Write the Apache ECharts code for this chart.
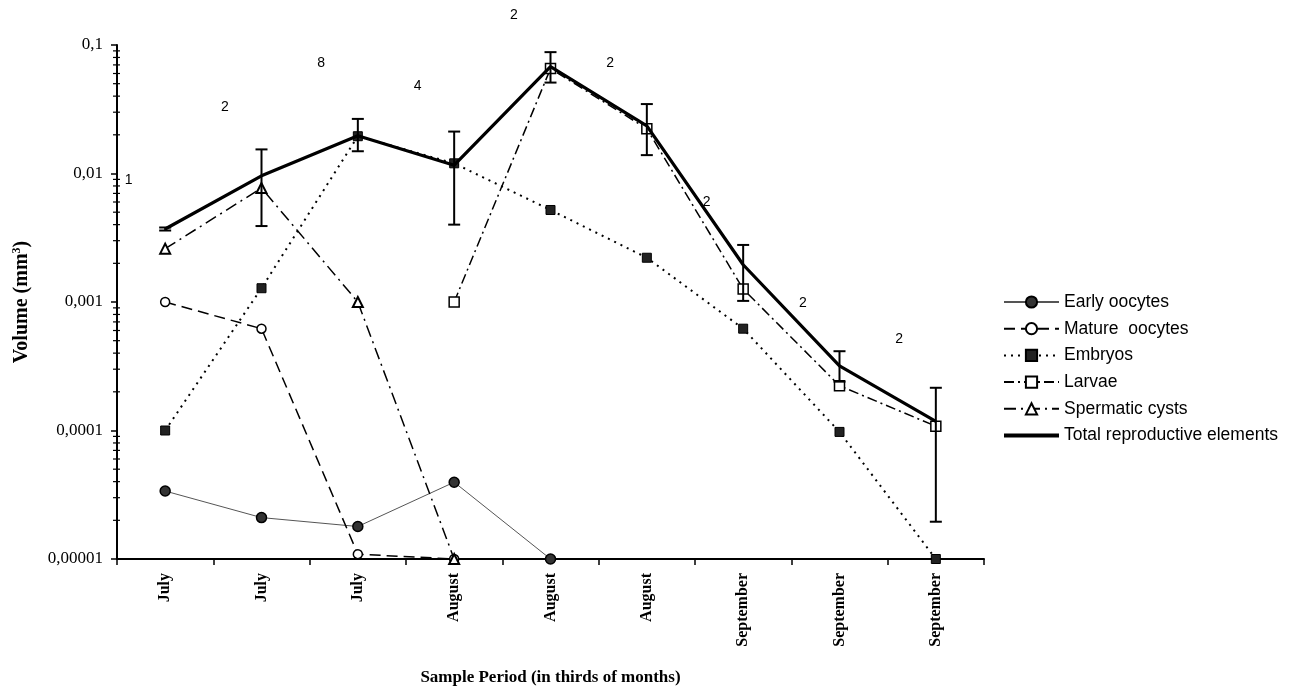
<!DOCTYPE html>
<html>
<head>
<meta charset="utf-8">
<script src="https://cdn.jsdelivr.net/npm/echarts@6/dist/echarts.min.js"></script>
<style>
html,body{margin:0;padding:0;background:#fff;}
#chart{width:1297px;height:691px;}
</style>
</head>
<body>
<div id="chart"></div>
<script>
const categories = ['July','July','July','August','August','August','September','September','September'];
const earlyOocytes   = [0.0000338, 0.000021, 0.0000179, 0.0000396, 0.00001, null, null, null, null];
const matureOocytes  = [0.001, 0.00062, 0.0000109, 0.00001, null, null, null, null, null];
const embryos        = [0.0001, 0.00128, 0.0195, 0.012, 0.0052, 0.00221, 0.00062, 0.0000975, 0.00001];
const larvae         = [null, null, null, 0.001, 0.0655, 0.0223, 0.00126, 0.000223, 0.000108];
const spermaticCysts = [0.0026, 0.0077, 0.001, 0.00001, null, null, null, null, null];
const totalElements  = [0.0037, 0.0096, 0.0197, 0.0116, 0.068, 0.0235, 0.00195, 0.000318, 0.000118];
const totalLow       = [0.0036, 0.0039, 0.0149, 0.0040, 0.051, 0.0139, 0.00102, 0.00024, 0.0000195];
const totalHigh      = [0.0038, 0.0154, 0.0266, 0.0212, 0.088, 0.0347, 0.00278, 0.000414, 0.000215];
const sampleSizes    = [1, 2, 8, 4, 2, 2, 2, 2, 2];
const sampleSizeAnchor = [0.0089, 0.0329, 0.0728, 0.0477, 0.17, 0.0728, 0.00594, 0.00098, 0.00051];
const yTickValues    = [0.00001, 0.0001, 0.001, 0.01, 0.1];
const minorMultipliers = [2, 3, 4, 5, 6, 7, 8, 9];

const minorTickData = [];
for (let k = 0; k < yTickValues.length - 1; k++) {
  for (const m of minorMultipliers) minorTickData.push([0, yTickValues[k] * m]);
}

const serif = 'Liberation Serif, Times New Roman, serif';
const sans = 'Liberation Sans, Arial, sans-serif';

const chart = echarts.init(document.getElementById('chart'), null, {renderer: 'canvas'});

function fmtY(v) {
  const e = Math.round(Math.log10(v));
  return (Math.pow(10, e)).toFixed(-e).replace('.', ',');
}

chart.setOption({
  animation: false,
  backgroundColor: '#fff',
  grid: {left: 117, right: 313, top: 45, bottom: 124, containLabel: false},
  legend: {
    orient: 'vertical',
    left: 998,
    top: 288,
    itemWidth: 55,
    itemHeight: 14,
    itemGap: 8.7,
    textStyle: {fontFamily: sans, fontSize: 17.5, lineHeight: 18, color: '#000'},
    data: ['Early oocytes', 'Mature  oocytes', 'Embryos', 'Larvae', 'Spermatic cysts',
      {name: 'Total reproductive elements', icon: 'path://M0,0 L55,0 L55,4 L0,4 Z'}]
  },
  xAxis: {
    type: 'category',
    data: categories,
    boundaryGap: true,
    name: 'Sample Period (in thirds of months)',
    nameLocation: 'middle',
    nameGap: 110,
    nameTextStyle: {fontFamily: serif, fontSize: 17, fontWeight: 'bold', color: '#000'},
    axisLine: {lineStyle: {color: '#000', width: 2}},
    axisTick: {show: true, alignWithLabel: false, length: 6, lineStyle: {color: '#000', width: 1.5}},
    axisLabel: {rotate: 90, margin: 14, interval: 0, fontFamily: serif, fontSize: 16, fontWeight: 'bold', color: '#000'},
    splitLine: {show: false}
  },
  yAxis: {
    type: 'log',
    logBase: 10,
    min: 0.00001,
    max: 0.1,
    name: 'Volume (mm{sup|3})',
    nameLocation: 'middle',
    nameRotate: 90,
    nameGap: 84,
    nameTextStyle: {fontFamily: serif, fontSize: 20, fontWeight: 'bold', color: '#000',
      rich: {sup: {fontFamily: serif, fontSize: 12, fontWeight: 'bold', verticalAlign: 'top', padding: [0, 0, 10, 0]}}},
    axisLine: {show: true, lineStyle: {color: '#000', width: 2}},
    axisTick: {show: true, length: 6, lineStyle: {color: '#000', width: 1.5}},
    axisLabel: {formatter: fmtY, margin: 14, fontFamily: serif, fontSize: 17, color: '#000'},
    splitLine: {show: false}
  },
  series: [
    {
      name: 'minorTicks', type: 'custom', silent: true, z: 1,
      data: minorTickData,
      renderItem: function (params, api) {
        const y = api.coord([0, api.value(1)])[1];
        const x0 = params.coordSys.x;
        return {type: 'line', shape: {x1: x0 - 4, y1: y, x2: x0 + 3, y2: y}, style: {stroke: '#000', lineWidth: 1.2}};
      }
    },
    {
      name: 'Early oocytes', type: 'line', data: earlyOocytes, connectNulls: false,
      symbol: 'circle', symbolSize: 10, showAllSymbol: true,
      lineStyle: {color: '#555', width: 1},
      itemStyle: {color: '#333', borderColor: '#000', borderWidth: 1.5},
      z: 3
    },
    {
      name: 'Mature  oocytes', type: 'line', data: matureOocytes,
      symbol: 'circle', symbolSize: 9, showAllSymbol: true,
      lineStyle: {color: '#000', width: 1.5, type: [11, 6]},
      itemStyle: {color: '#fff', borderColor: '#000', borderWidth: 1.5},
      z: 3
    },
    {
      name: 'Embryos', type: 'line', data: embryos,
      symbol: 'rect', symbolSize: 9, showAllSymbol: true,
      lineStyle: {color: '#000', width: 2, type: [2, 5]},
      itemStyle: {color: '#222', borderColor: '#000', borderWidth: 1},
      z: 4
    },
    {
      name: 'Larvae', type: 'line', data: larvae,
      symbol: 'rect', symbolSize: 10, showAllSymbol: true,
      lineStyle: {color: '#000', width: 1.5, type: [10, 4, 2, 4]},
      itemStyle: {color: '#fff', borderColor: '#000', borderWidth: 1.5},
      z: 5
    },
    {
      name: 'Spermatic cysts', type: 'line', data: spermaticCysts,
      symbol: 'triangle', symbolSize: 10, showAllSymbol: true,
      lineStyle: {color: '#000', width: 1.5, type: [12, 5, 2, 5]},
      itemStyle: {color: '#fff', borderColor: '#000', borderWidth: 2},
      z: 5
    },
    {
      name: 'Total reproductive elements', type: 'line', data: totalElements,
      symbol: 'none', showSymbol: false,
      lineStyle: {color: '#000', width: 3.2},
      itemStyle: {color: '#000'},
      z: 6
    },
    {
      name: 'totalErrors', type: 'custom', silent: true, z: 7,
      data: totalLow.map((lo, i) => [i, lo, totalHigh[i]]),
      renderItem: function (params, api) {
        const lo = api.coord([api.value(0), api.value(1)]);
        const hi = api.coord([api.value(0), api.value(2)]);
        const cw = 6;
        const st = {stroke: '#000', lineWidth: 2};
        return {type: 'group', children: [
          {type: 'line', shape: {x1: lo[0], y1: lo[1], x2: hi[0], y2: hi[1]}, style: st},
          {type: 'line', shape: {x1: lo[0] - cw, y1: lo[1], x2: lo[0] + cw, y2: lo[1]}, style: st},
          {type: 'line', shape: {x1: hi[0] - cw, y1: hi[1], x2: hi[0] + cw, y2: hi[1]}, style: st}
        ]};
      }
    },
    {
      name: 'sampleSizes', type: 'custom', silent: true, z: 8, clip: false,
      data: sampleSizeAnchor.map((v, i) => [i, v, sampleSizes[i]]),
      renderItem: function (params, api) {
        const p = api.coord([api.value(0), api.value(1)]);
        const bw = api.size([1, 0])[0];
        return {type: 'text', x: p[0] - bw * 0.38, y: p[1],
          style: {text: String(api.value(2)), fill: '#000', font: '14px ' + sans, textAlign: 'center', textVerticalAlign: 'middle'}};
      }
    }
  ]
});
</script>
</body>
</html>
